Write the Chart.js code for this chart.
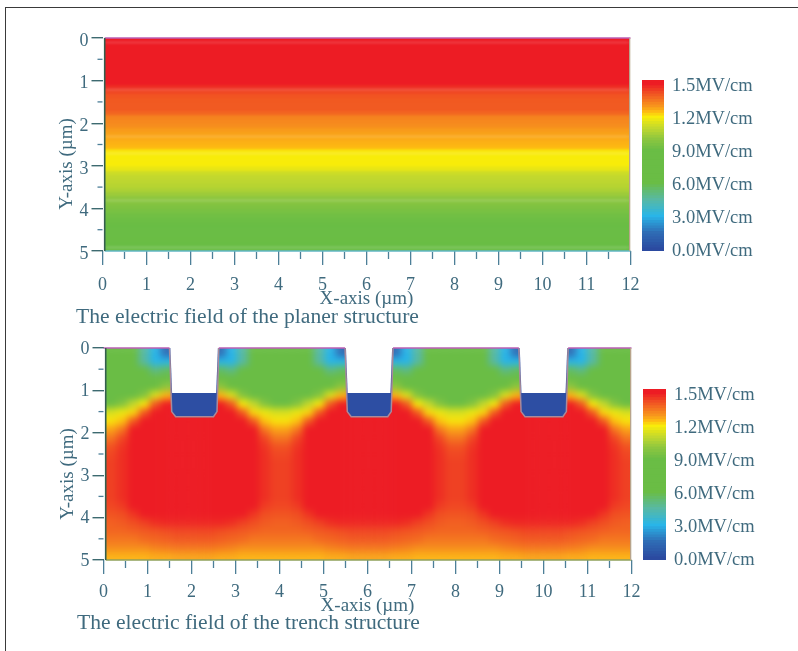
<!DOCTYPE html>
<html><head><meta charset="utf-8">
<script src="https://cdn.jsdelivr.net/npm/chart.js@4"></script>
<style>
html,body{margin:0;padding:0;background:#fff;width:798px;height:651px;overflow:hidden}
#page{position:absolute;left:0;top:0;width:798px;height:651px;filter:blur(0.55px)}
#frame{position:absolute;left:5px;top:7px;width:810px;height:660px;border:1.5px solid #3a3a3a;box-sizing:border-box}
.clip{position:absolute;overflow:hidden}
canvas{position:absolute}
.txt{position:absolute;font-family:'Liberation Serif',serif;color:#3f6a7e;white-space:nowrap;line-height:1}
.rot{transform:translate(-50%,-50%) rotate(-90deg)}
</style></head><body><div id="page"><div id="frame"></div></div>
<script>
// ---------- data ----------
const xTickValues=[0,1,2,3,4,5,6,7,8,9,10,11,12];
const yTickValues=[0,1,2,3,4,5];
const xMinorValues=[0.5,1.5,2.5,3.5,4.5,5.5,6.5,7.5,8.5,9.5,10.5,11.5];
const yMinorValues=[0.5,1.5,2.5,3.5,4.5];
const colorbarLabels=['0.0MV/cm','3.0MV/cm','6.0MV/cm','9.0MV/cm','1.2MV/cm','1.5MV/cm'];
const colorbarTicks=[0,3,6,9,12,15];
const colorbarLevels=[0,0.25,0.5,0.75,1,1.25,1.5,1.75,2,2.25,2.5,2.75,3,3.25,3.5,3.75,4,4.25,4.5,4.75,5,5.25,5.5,5.75,6,6.25,6.5,6.75,7,7.25,7.5,7.75,8,8.25,8.5,8.75,9,9.25,9.5,9.75,10,10.25,10.5,10.75,11,11.25,11.5,11.75,12,12.25,12.5,12.75,13,13.25,13.5,13.75,14,14.25,14.5,14.75,15,15.25,15.5];
// field level per 0.1 um row, planar structure (15 = top of colour bar)
const planarField=[15,15,15,15,15,15,15,15,15,15,15,14.7,14.3,14.1,14,14,14,13.8,13.3,13.2,
 13.1,12.9,12.8,12.7,12.6,12.5,12.05,12,12,12,11.7,11.2,11,10.9,10.8,10.6,10.3,10,9.8,9.6,
 9.4,9.2,9.1,9,9,9,9,9,9,9];
// field level per cell (0.2 um rows, 0.25 um columns), trench structure
const trenchField=[
[8,8,7,4.5,3,1.5,1,1,1,1,1.5,3,4.5,7,8,8,8,8,7,4.5,3,1.5,1,1,1,1,1.5,3,4.5,7,8,8,8,8,7,4.5,3,1.5,1,1,1,1,1.5,3,4.5,7,8,8],
[8,8,7,4.5,3,3,3,3,3,3,3,3,4.5,7,8,8,8,8,7,4.5,3,3,3,3,3,3,3,3,4.5,7,8,8,8,8,7,4.5,3,3,3,3,3,3,3,3,4.5,7,8,8],
[8,8,8,6.5,5,5.5,6,6,6,6,5.5,5,6.5,8,8,8,8,8,8,6.5,5,5.5,6,6,6,6,5.5,5,6.5,8,8,8,8,8,8,6.5,5,5.5,6,6,6,6,5.5,5,6.5,8,8,8],
[8,8,8,8,7.5,7.5,8,8,8,8,7.5,7.5,8,8,8,8,8,8,8,8,7.5,7.5,8,8,8,8,7.5,7.5,8,8,8,8,8,8,8,8,7.5,7.5,8,8,8,8,7.5,7.5,8,8,8,8],
[8,8,8,8,8.5,10,10,10,10,10,10,8.5,8,8,8,8,8,8,8,8,8.5,10,10,10,10,10,10,8.5,8,8,8,8,8,8,8,8,8.5,10,10,10,10,10,10,8.5,8,8,8,8],
[8.5,8.5,9,9.7,11.5,12.5,13,13,13,13,12.5,11.5,9.7,9,8.5,8.5,8.5,8.5,9,9.7,11.5,12.5,13,13,13,13,12.5,11.5,9.7,9,8.5,8.5,8.5,8.5,9,9.7,11.5,12.5,13,13,13,13,12.5,11.5,9.7,9,8.5,8.5],
[9,9.7,11,12,14,15,15,15,15,15,15,14,12,11,9.7,9,9,9.7,11,12,14,15,15,15,15,15,15,14,12,11,9.7,9,9,9.7,11,12,14,15,15,15,15,15,15,14,12,11,9.7,9],
[11.4,11.8,12.2,14,15,15,15,15,15,15,15,15,14,12.2,11.8,11.4,11.4,11.8,12.2,14,15,15,15,15,15,15,15,15,14,12.2,11.8,11.4,11.4,11.8,12.2,14,15,15,15,15,15,15,15,15,14,12.2,11.8,11.4],
[12.1,12.4,14,15,15,15,15,15,15,15,15,15,15,14,12.4,12.1,12.1,12.4,14,15,15,15,15,15,15,15,15,15,15,14,12.4,12.1,12.1,12.4,14,15,15,15,15,15,15,15,15,15,15,14,12.4,12.1],
[12.8,13.5,15,15,15,15,15,15,15,15,15,15,15,15,13.5,12.8,12.8,13.5,15,15,15,15,15,15,15,15,15,15,15,15,13.5,12.8,12.8,13.5,15,15,15,15,15,15,15,15,15,15,15,15,13.5,12.8],
[13.5,14.3,15,15,15,15,15,15,15,15,15,15,15,15,14.3,13.5,13.5,14.3,15,15,15,15,15,15,15,15,15,15,15,15,14.3,13.5,13.5,14.3,15,15,15,15,15,15,15,15,15,15,15,15,14.3,13.5],
[14.1,14.6,15,15,15,15,15,15,15,15,15,15,15,15,14.6,14.1,14.1,14.6,15,15,15,15,15,15,15,15,15,15,15,15,14.6,14.1,14.1,14.6,15,15,15,15,15,15,15,15,15,15,15,15,14.6,14.1],
[14.3,14.7,15,15,15,15,15,15,15,15,15,15,15,15,14.7,14.3,14.3,14.7,15,15,15,15,15,15,15,15,15,15,15,15,14.7,14.3,14.3,14.7,15,15,15,15,15,15,15,15,15,15,15,15,14.7,14.3],
[14.4,14.7,15,15,15,15,15,15,15,15,15,15,15,15,14.7,14.4,14.4,14.7,15,15,15,15,15,15,15,15,15,15,15,15,14.7,14.4,14.4,14.7,15,15,15,15,15,15,15,15,15,15,15,15,14.7,14.4],
[14.4,14.7,15,15,15,15,15,15,15,15,15,15,15,15,14.7,14.4,14.4,14.7,15,15,15,15,15,15,15,15,15,15,15,15,14.7,14.4,14.4,14.7,15,15,15,15,15,15,15,15,15,15,15,15,14.7,14.4],
[14.4,14.7,15,15,15,15,15,15,15,15,15,15,15,15,14.7,14.4,14.4,14.7,15,15,15,15,15,15,15,15,15,15,15,15,14.7,14.4,14.4,14.7,15,15,15,15,15,15,15,15,15,15,15,15,14.7,14.4],
[14.4,14.7,15,15,15,15,15,15,15,15,15,15,15,15,14.7,14.4,14.4,14.7,15,15,15,15,15,15,15,15,15,15,15,15,14.7,14.4,14.4,14.7,15,15,15,15,15,15,15,15,15,15,15,15,14.7,14.4],
[14.4,14.7,15,15,15,15,15,15,15,15,15,15,15,15,14.7,14.4,14.4,14.7,15,15,15,15,15,15,15,15,15,15,15,15,14.7,14.4,14.4,14.7,15,15,15,15,15,15,15,15,15,15,15,15,14.7,14.4],
[14.3,14.5,15,15,15,15,15,15,15,15,15,15,15,15,14.5,14.3,14.3,14.5,15,15,15,15,15,15,15,15,15,15,15,15,14.5,14.3,14.3,14.5,15,15,15,15,15,15,15,15,15,15,15,15,14.5,14.3],
[14.1,14.2,14.6,15,15,15,15,15,15,15,15,15,15,14.6,14.2,14.1,14.1,14.2,14.6,15,15,15,15,15,15,15,15,15,15,14.6,14.2,14.1,14.1,14.2,14.6,15,15,15,15,15,15,15,15,15,15,14.6,14.2,14.1],
[13.9,14,14.2,14.4,14.7,14.8,14.8,14.8,14.8,14.8,14.8,14.7,14.4,14.2,14,13.9,13.9,14,14.2,14.4,14.7,14.8,14.8,14.8,14.8,14.8,14.8,14.7,14.4,14.2,14,13.9,13.9,14,14.2,14.4,14.7,14.8,14.8,14.8,14.8,14.8,14.8,14.7,14.4,14.2,14,13.9],
[13.8,13.8,13.9,14,14.1,14.2,14.3,14.3,14.3,14.3,14.2,14.1,14,13.9,13.8,13.8,13.8,13.8,13.9,14,14.1,14.2,14.3,14.3,14.3,14.3,14.2,14.1,14,13.9,13.8,13.8,13.8,13.8,13.9,14,14.1,14.2,14.3,14.3,14.3,14.3,14.2,14.1,14,13.9,13.8,13.8],
[13.5,13.5,13.5,13.7,13.8,13.9,14,14,14,14,13.9,13.8,13.7,13.5,13.5,13.5,13.5,13.5,13.5,13.7,13.8,13.9,14,14,14,14,13.9,13.8,13.7,13.5,13.5,13.5,13.5,13.5,13.5,13.7,13.8,13.9,14,14,14,14,13.9,13.8,13.7,13.5,13.5,13.5],
[13.1,13.1,13.1,13.1,13.3,13.4,13.5,13.5,13.5,13.5,13.4,13.3,13.1,13.1,13.1,13.1,13.1,13.1,13.1,13.1,13.3,13.4,13.5,13.5,13.5,13.5,13.4,13.3,13.1,13.1,13.1,13.1,13.1,13.1,13.1,13.1,13.3,13.4,13.5,13.5,13.5,13.5,13.4,13.3,13.1,13.1,13.1,13.1],
[12.6,12.6,12.6,12.6,12.7,12.7,12.8,12.8,12.8,12.8,12.7,12.7,12.6,12.6,12.6,12.6,12.6,12.6,12.6,12.6,12.7,12.7,12.8,12.8,12.8,12.8,12.7,12.7,12.6,12.6,12.6,12.6,12.6,12.6,12.6,12.6,12.7,12.7,12.8,12.8,12.8,12.8,12.7,12.7,12.6,12.6,12.6,12.6]
];
// trench outlines (um)
const trenchOutlines=[
 [[1.5,0],[1.55,1.5],[1.64,1.62],[2.5,1.62],[2.58,1.5],[2.62,0]],
 [[5.49,0],[5.54,1.5],[5.63,1.62],[6.46,1.62],[6.54,1.5],[6.58,0]],
 [[9.44,0],[9.49,1.5],[9.58,1.62],[10.44,1.62],[10.52,1.5],[10.56,0]]
];
const trenchCavities=[
 [[1.52,-0.03],[1.56,1.06],[2.56,1.06],[2.6,-0.03]],
 [[5.51,-0.03],[5.55,1.06],[6.52,1.06],[6.56,-0.03]],
 [[9.46,-0.03],[9.5,1.06],[10.5,1.06],[10.54,-0.03]]
];
const trenchTopLines=[[[0,0],[1.5,0]],[[2.62,0],[5.49,0]],[[6.58,0],[9.44,0]],[[10.56,0],[12,0]]];
const planarTopLines=[[[0.05,0],[12,0]]];
// ---------- colours ----------
const colorStops=[[0,'#2b4aa0'],[1.5,'#2f6db5'],[3,'#29b5e8'],[4.5,'#58b9a4'],[6,'#6abd45'],[9,'#6abd45'],[10,'#8dc63f'],[11,'#c2d82e'],[12,'#f8ec0a'],[12.5,'#fdb913'],[13,'#f7941d'],[14,'#f15a22'],[15,'#ed1c24']];
function rgb(h){return [1,3,5].map(i=>parseInt(h.substr(i,2),16));}
function levelColor(v){
 for(let i=1;i<colorStops.length;i++){
  if(v<=colorStops[i][0]){
   const a=colorStops[i-1],b=colorStops[i],t=(v-a[0])/(b[0]-a[0]);
   const A=rgb(a[1]),B=rgb(b[1]);
   return 'rgb('+A.map((c,k)=>Math.round(c+(B[k]-c)*t)).join(',')+')';
  }
 }
 return colorStops[colorStops.length-1][1];
}
const page=document.getElementById('page');
const inkColor='#3f6a7e', tickColor='#4d7f98', serif="'Liberation Serif',serif";
function addCanvas(parent,l,t,w,h){const c=document.createElement('canvas');c.width=w;c.height=h;c.style.cssText=`left:${l}px;top:${t}px;width:${w}px;height:${h}px`;parent.appendChild(c);return c;}
function addText(s,x,y,size,rot){const d=document.createElement('div');d.className='txt'+(rot?' rot':'');d.textContent=s;d.style.left=x+'px';d.style.top=y+'px';d.style.fontSize=size+'px';page.appendChild(d);}
// ---------- heat layer: floating bars, one dataset per row ----------
function heat(grid,box,rowH,blurPx){
 const clip=document.createElement('div');clip.className='clip';
 clip.style.cssText+=`left:${box.l}px;top:${box.t}px;width:${box.w}px;height:${box.h}px`;
 page.appendChild(clip);
 const nC=grid[0].length,colW=box.w/nC,pxU=box.h/5,padY=rowH;
 const rows=[grid[0],...grid,grid[grid.length-1]].map(r=>[r[0],...r,r[r.length-1]]);
 const W=Math.round(colW*(nC+2)),H=Math.round(box.h+2*padY*pxU);
 const c=addCanvas(clip,-Math.round(colW),-Math.round(padY*pxU),W,H);
 c.style.filter=`blur(${blurPx}px)`;
 const labels=rows[0].map((_,i)=>String(i));
 const datasets=rows.map((r,i)=>{
  const y0=-padY+i*rowH,y1=y0+rowH,cols=r.map(levelColor);
  return {data:labels.map(()=>[y0,y1]),backgroundColor:cols,borderColor:cols,borderWidth:1,borderSkipped:false,grouped:false,barPercentage:1,categoryPercentage:1};
 });
 new Chart(c,{type:'bar',data:{labels,datasets},options:{responsive:false,animation:false,events:[],
  layout:{padding:0},plugins:{legend:{display:false},tooltip:{enabled:false}},
  scales:{x:{display:false},y:{display:false,reverse:true,min:-padY,max:5+padY}}}});
}
// ---------- axes overlay ----------
const minorTicksPlugin={id:'minorTicks',afterDraw(ch){
 const {ctx,scales:{x,y}}=ch;ctx.save();ctx.lineWidth=1.3;ctx.strokeStyle=tickColor;
 xMinorValues.forEach(v=>{const p=x.getPixelForValue(v);ctx.beginPath();ctx.moveTo(p,y.bottom+1);ctx.lineTo(p,y.bottom+8);ctx.stroke();});
 yMinorValues.forEach(v=>{const p=y.getPixelForValue(v);ctx.beginPath();ctx.moveTo(x.left-5,p);ctx.lineTo(x.left,p);ctx.stroke();});
 ctx.restore();}};
function overlay(o){
 const L=40,yW=o.plotL-L,W=650-L,padT=16,top=o.plotT-padT,xH=62,H=padT+o.plotH+xH;
 const c=addCanvas(page,L,top,W,H);
 const line=(pts,color,w,extra)=>Object.assign({type:'scatter',showLine:true,data:pts.map(p=>({x:p[0],y:p[1]})),borderColor:color,borderWidth:w,pointRadius:0,clip:false,tension:0},extra||{});
 const ds=[];
 (o.outlines||[]).forEach(p=>ds.push(line(p,'#a98a9a',1.5,{fill:'shape',backgroundColor:'#2d4ea3'})));
 (o.cavities||[]).forEach(p=>ds.push(line(p,'#ffffff',0,{fill:'shape',backgroundColor:'#ffffff'})));
 o.topLines.forEach(p=>ds.push(line(p,'#bb5fb5',1.6)));
 ds.push(line([[0.05,5],[12,5]],o.bottomColor,1.4));
 ds.push(line([[0.05,0],[0.05,5]],o.leftColor,1.6));
 ds.push(line([[11.98,0],[11.98,5]],'#b9a58c',1));
 ds.reverse();
 new Chart(c,{type:'scatter',data:{datasets:ds},plugins:[minorTicksPlugin],options:{responsive:false,animation:false,events:[],
  layout:{padding:{left:0,top:padT,right:W-(o.plotR-L),bottom:0}},
  plugins:{legend:{display:false},tooltip:{enabled:false}},
  scales:{
   x:{type:'linear',min:0,max:12,position:'bottom',afterFit:s=>{s.height=xH;},
    afterBuildTicks:s=>{s.ticks=xTickValues.map(v=>({value:v}));},
    border:{display:false},grid:{drawOnChartArea:false,drawTicks:true,tickLength:14,color:tickColor,lineWidth:1.3},
    ticks:{autoSkip:false,maxRotation:0,padding:o.xPad,color:inkColor,font:{family:serif,size:18}},
    title:{display:true,text:'X-axis (\u00b5m)',color:inkColor,font:{family:serif,size:19},padding:{top:0,bottom:o.titleB}}},
   y:{type:'linear',min:0,max:5,reverse:true,position:'left',afterFit:s=>{s.width=yW;},
    afterBuildTicks:s=>{s.ticks=yTickValues.map(v=>({value:v}));},
    border:{display:false},grid:{drawOnChartArea:false,tickLength:11,color:'#3d6a70',lineWidth:1.4},
    ticks:{padding:3,labelOffset:o.yOff,color:inkColor,font:{family:serif,size:18}}}
  }}});
}
// ---------- colour bar ----------
function colorbar(o){
 const padV=24;
 const c=addCanvas(page,o.l,o.t-padV,150,o.h+2*padV);
 const datasets=colorbarLevels.map((v)=>{const col=levelColor(v);return {data:[[v-0.125,v+0.125]],backgroundColor:col,borderWidth:0,inflateAmount:1,grouped:false,barPercentage:1,categoryPercentage:1};});
 new Chart(c,{type:'bar',data:{labels:['level'],datasets},options:{responsive:false,animation:false,events:[],
  layout:{padding:{top:padV,bottom:padV,left:0,right:0}},plugins:{legend:{display:false},tooltip:{enabled:false}},
  scales:{
   x:{display:false},
   y:{type:'linear',position:'right',min:-0.1,max:15.45,afterFit:s=>{s.width=150-o.w;s.paddingTop=0;s.paddingBottom=0;},
    afterBuildTicks:s=>{s.ticks=colorbarTicks.map(v=>({value:v}));},
    border:{display:false},grid:{display:false,drawTicks:false},
    ticks:{padding:o.pad,labelOffset:1,color:inkColor,font:{family:serif,size:18.5},
     callback:v=>colorbarLabels[colorbarTicks.indexOf(v)]}}
  }}});
}
// ---------- build ----------
heat(planarField.map(v=>[v]),{l:105,t:38,w:524,h:213},0.1,0.8);
overlay({plotL:102.5,plotR:630.5,plotT:38,plotH:213,topLines:planarTopLines,bottomColor:'#62b6c4',leftColor:'#335f4e',xPad:9,titleB:3,yOff:3});
heat(trenchField,{l:106,t:348,w:525,h:212},0.2,3.6);
overlay({plotL:103.5,plotR:631.5,plotT:348,plotH:212,outlines:trenchOutlines,cavities:trenchCavities,topLines:trenchTopLines,bottomColor:'#8fa05a',leftColor:'#335f4e',xPad:7,titleB:5,yOff:1});
colorbar({l:642,t:80,h:171,w:22,pad:8});
colorbar({l:643,t:389,h:171,w:23,pad:8});
addText('Y-axis (\u00b5m)',65,164,19,true);
addText('Y-axis (\u00b5m)',66,474,19,true);
addText('The electric field of the planer structure',76,306,21.6);
addText('The electric field of the trench structure',77,612,21.6);
</script></body></html>
